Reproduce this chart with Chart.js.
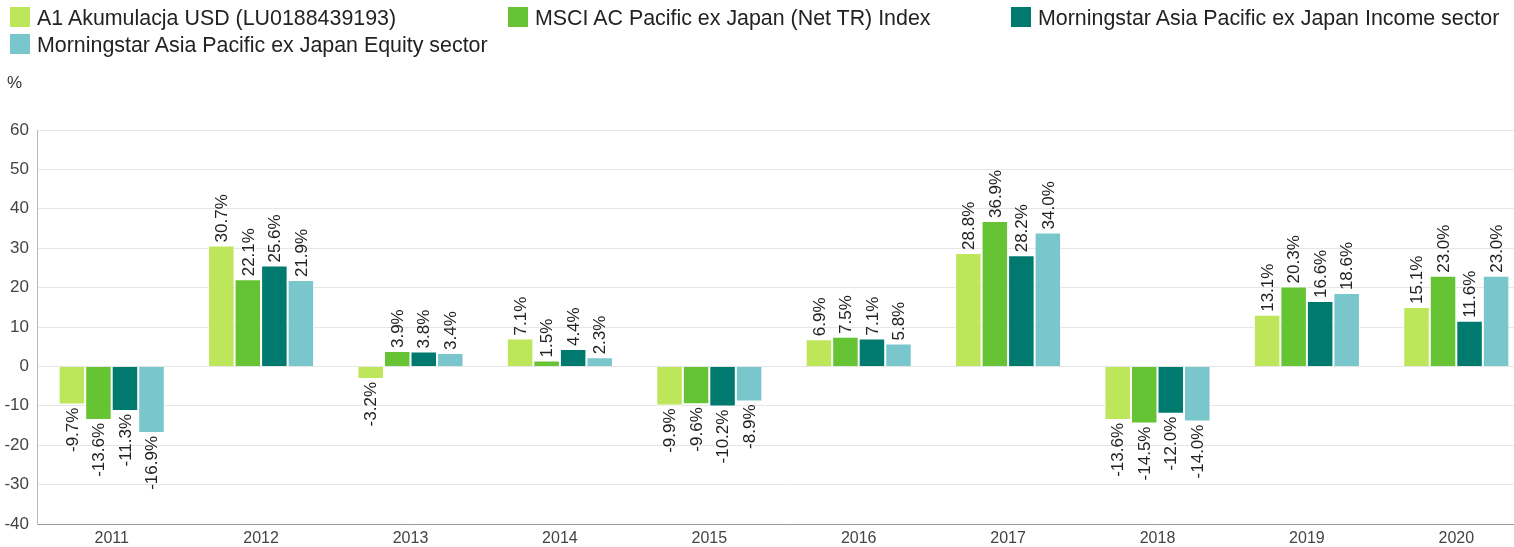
<!DOCTYPE html>
<html>
<head>
<meta charset="utf-8">
<script src="https://cdn.jsdelivr.net/npm/chart.js@4"></script>
<style>
  body { margin: 0; background: #fff; font-family: "Liberation Sans", Arial, sans-serif; overflow: hidden; }
  #wrap { position: relative; width: 1514px; height: 547px; overflow: hidden; }
  #legend { position: absolute; left: 10px; top: 7px; width: 1504px; }
  .item { position: absolute; height: 22px; line-height: 22px; font-size: 21.4px; color: #222; white-space: nowrap; }
  .item span { display: inline-block; width: 20px; height: 20px; vertical-align: top; margin-right: 7px; }
  #unit { position: absolute; left: 7px; top: 73px; font-size: 17px; color: #333; }
  canvas { position: absolute; left: 0; top: 0; }
</style>
</head>
<body>
<div id="wrap">
  <canvas id="returnsChart" width="1531" height="547"></canvas>
  <div id="legend"></div>
  <div id="unit">%</div>
</div>
<script>
const years = ['2011', '2012', '2013', '2014', '2015', '2016', '2017', '2018', '2019', '2020'];
const fundA1 = [-9.7, 30.7, -3.2, 7.1, -9.9, 6.9, 28.8, -13.6, 13.1, 15.1];
const msciIndex = [-13.6, 22.1, 3.9, 1.5, -9.6, 7.5, 36.9, -14.5, 20.3, 23.0];
const incomeSector = [-11.3, 25.6, 3.8, 4.4, -10.2, 7.1, 28.2, -12.0, 16.6, 11.6];
const equitySector = [-16.9, 21.9, 3.4, 2.3, -8.9, 5.8, 34.0, -14.0, 18.6, 23.0];
const seriesNames = [
    'A1 Akumulacja USD (LU0188439193)',
    'MSCI AC Pacific ex Japan (Net TR) Index',
    'Morningstar Asia Pacific ex Japan Income sector',
    'Morningstar Asia Pacific ex Japan Equity sector'
];
const colors = ['#bde65a', '#66c434', '#007a6e', '#79c6cc'];
const yTicks = [60, 50, 40, 30, 20, 10, 0, -10, -20, -30, -40];

// html legend, three columns
const legendPos = [[0, 0], [498, 0], [1001, 0], [0, 27]];
const legendEl = document.getElementById('legend');
seriesNames.forEach((name, i) => {
    const d = document.createElement('div');
    d.className = 'item';
    d.style.left = legendPos[i][0] + 'px';
    d.style.top = legendPos[i][1] + 'px';
    d.innerHTML = '<span style="background:' + colors[i] + '"></span>' + name;
    legendEl.appendChild(d);
});

// rotated value labels above / below each bar
const valueLabels = {
    id: 'valueLabels',
    afterDatasetsDraw(chart) {
        const ctx = chart.ctx;
        ctx.save();
        ctx.font = '17px "Liberation Sans", Arial, sans-serif';
        ctx.fillStyle = '#222';
        ctx.textBaseline = 'middle';
        chart.data.datasets.forEach((ds, i) => {
            chart.getDatasetMeta(i).data.forEach((bar, j) => {
                const v = ds.data[j];
                const txt = v.toFixed(1) + '%';
                ctx.save();
                ctx.translate(bar.x, bar.y + (v >= 0 ? -3 : 3));
                ctx.rotate(-Math.PI / 2);
                ctx.textAlign = v >= 0 ? 'left' : 'right';
                ctx.fillText(txt, 0, 1);
                ctx.restore();
            });
        });
        ctx.restore();
    }
};

// the original plot runs a little past the right edge of the picture
const ctx = document.getElementById('returnsChart').getContext('2d');
const returnsChart = new Chart(ctx, {
    type: 'bar',
    data: {
        labels: years,
        datasets: [fundA1, msciIndex, incomeSector, equitySector].map((d, i) => ({
            label: seriesNames[i],
            data: d,
            backgroundColor: colors[i],
            borderColor: '#ffffff',
            borderWidth: 1,
            barPercentage: 1,
            categoryPercentage: 0.71
        }))
    },
    options: {
        responsive: false,
        animation: false,
        layout: { padding: { top: 130, left: 0, right: 0, bottom: 0 } },
        plugins: {
            legend: { display: false },
            tooltip: { enabled: false }
        },
        scales: {
            x: {
                afterFit(scale) { scale.height = 23; },
                grid: { display: false, drawTicks: false },
                border: { color: '#999', width: 1 },
                ticks: { color: '#444', font: { size: 16, family: '"Liberation Sans", Arial' }, padding: 5 }
            },
            y: {
                min: -40,
                max: 60,
                afterBuildTicks(axis) { axis.ticks = yTicks.map(v => ({ value: v })); },
                afterFit(scale) { scale.width = 37; },
                grid: { color: '#e6e6e6', drawTicks: false },
                border: { color: '#bbb', width: 1 },
                ticks: { color: '#444', font: { size: 17, family: '"Liberation Sans", Arial' }, padding: 8 }
            }
        }
    },
    plugins: [valueLabels]
});
</script>
</body>
</html>
